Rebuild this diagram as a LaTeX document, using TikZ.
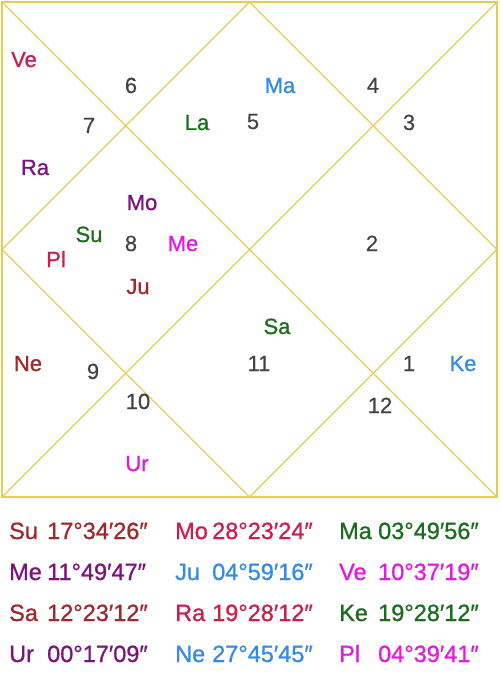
\documentclass[tikz,border=0pt]{standalone}
\usepackage{fontspec}
\setmainfont{Liberation Sans}
\newfontfamily\medfont[FakeBold=0.9]{Liberation Sans}
\newfontfamily\numfont[FakeBold=0.3]{Liberation Sans}
\usetikzlibrary{positioning,calc}
\definecolor{chartgold}{RGB}{232,205,85}
\definecolor{chartnum}{RGB}{66,66,66}
\definecolor{planetbrown}{RGB}{160,40,45}
\definecolor{planetcrimson}{RGB}{205,30,75}
\definecolor{planetgreen}{RGB}{25,110,30}
\definecolor{planetpurple}{RGB}{125,20,125}
\definecolor{planetblue}{RGB}{50,140,230}
\definecolor{planetmagenta}{RGB}{225,25,225}
\tikzset{
  chart line/.style={
    draw=chartgold,
    line width=1.3pt,
  },
  house num/.style={
    text=chartnum,
    inner sep=0pt,
    anchor=base,
    font=\numfont\fontsize{22}{24}\selectfont,
  },
  planet label/.style={
    inner sep=0pt,
    anchor=base,
    font=\medfont\fontsize{22}{24}\selectfont,
  },
  degree label/.style={
    inner sep=0pt,
    anchor=base west,
    font=\medfont\fontsize{23.5}{25}\selectfont,
  },
}

\begin{document}
\begin{tikzpicture}[x=1pt,y=-1pt]
  \path[fill=white, use as bounding box] (0,0) rectangle (500,687);

  % Chart frame
  \coordinate (nw) at (2,2);
  \coordinate (ne) at (497,2);
  \coordinate (se) at (497,497);
  \coordinate (sw) at (2,497);
  \coordinate (n) at ($(nw)!0.5!(ne)$);
  \coordinate (e) at ($(ne)!0.5!(se)$);
  \coordinate (s) at ($(sw)!0.5!(se)$);
  \coordinate (w) at ($(nw)!0.5!(sw)$);
  \draw[chart line] (nw) -- (se);
  \draw[chart line] (ne) -- (sw);
  \draw[chart line] (n) -- (e) -- (s) -- (w) -- cycle;
  \draw[chart line, line width=2pt] (nw) rectangle (se);

  % House numbers
  \foreach \n/\x/\y in {
    1/409/371, 2/372/251, 3/409/130, 4/373/93,
    5/253/129, 6/131/93, 7/89/133, 8/131/251,
    9/93/379, 10/138/409, 11/259/371, 12/380/413
  }{
    \node[house num] (h\n) at (\x,\y) {\n};
  }

  % Planets in the houses
  \foreach \p/\c/\x/\y in {
    Ve/planetcrimson/24/67, Ma/planetblue/280/93,
    La/planetgreen/197/130, Ra/planetpurple/35/175,
    Mo/planetpurple/142/210, Su/planetgreen/89/242,
    Me/planetmagenta/183/251, Pl/planetcrimson/56/267,
    Ju/planetbrown/138/294, Sa/planetgreen/277/334,
    Ke/planetblue/463/371, Ne/planetbrown/28/371,
    Ur/planetmagenta/137/471
  }{
    \node[planet label, text=\c] (p\p) at (\x,\y) {\p};
  }

  % Degree table
  \foreach \p/\val/\c/\x/\vx/\y in {
    Su/17°34′26″/planetbrown/9/47/539,
    Mo/28°23′24″/planetcrimson/175/212/539,
    Ma/03°49′56″/planetgreen/339/378/539,
    Me/11°49′47″/planetpurple/9/47/580,
    Ju/04°59′16″/planetblue/175/212/580,
    Ve/10°37′19″/planetmagenta/339/378/580,
    Sa/12°23′12″/planetbrown/9/47/621,
    Ra/19°28′12″/planetcrimson/175/212/621,
    Ke/19°28′12″/planetgreen/339/378/621,
    Ur/00°17′09″/planetpurple/9/47/662,
    Ne/27°45′45″/planetblue/175/212/662,
    Pl/04°39′41″/planetmagenta/339/378/662
  }{
    \node[degree label, text=\c] (t\p) at (\x,\y) {\p};
    \node[degree label, text=\c] (v\p) at (\vx,\y) {\val};
  }
\end{tikzpicture}
\end{document}
